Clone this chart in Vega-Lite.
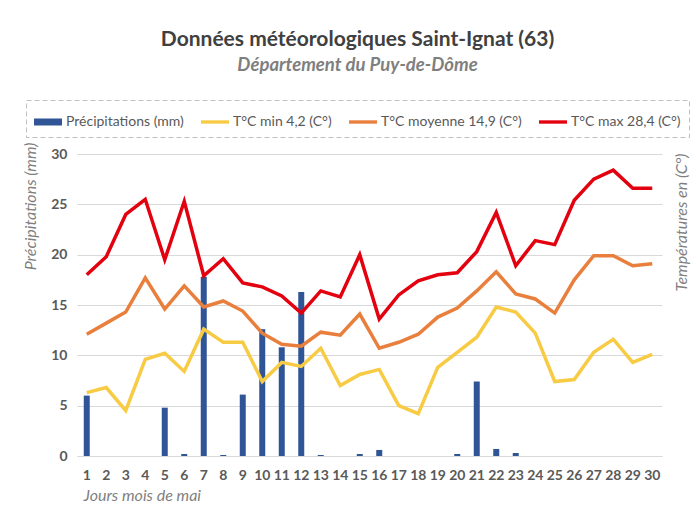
{
  "$schema": "https://vega.github.io/schema/vega-lite/v6.json",
  "width": 585,
  "height": 302,
  "autosize": "none",
  "padding": {"left": 77, "top": 154, "right": 36, "bottom": 58},
  "background": "white",
  "title": {
    "text": "Données météorologiques Saint-Ignat (63)",
    "subtitle": "Département du Puy-de-Dôme",
    "anchor": "middle",
    "offset": 25,
    "dx": -12,
    "font": "Lato",
    "fontSize": 21,
    "fontWeight": "bold",
    "color": "#404040",
    "subtitleFont": "Lato",
    "subtitleFontSize": 18.5,
    "subtitleFontStyle": "italic",
    "subtitleFontWeight": "bold",
    "subtitleColor": "#7F7F7F",
    "subtitlePadding": 6
  },
  "config": {
    "font": "Lato",
    "view": {"stroke": null},
    "axis": {
      "labelFont": "Lato",
      "labelFontSize": 14,
      "labelFontWeight": "bold",
      "labelColor": "#595959",
      "titleFont": "Lato",
      "titleFontSize": 16,
      "titleFontWeight": "normal",
      "titleFontStyle": "italic",
      "titleColor": "#7F7F7F",
      "gridColor": "#D9D9D9",
      "domainColor": "#D9D9D9",
      "ticks": false
    }
  },
  "data": {
    "values": [
      {"day": 1, "precip": 6.0, "tmin": 6.3, "tmean": 12.1, "tmax": 18.0},
      {"day": 2, "precip": 0, "tmin": 6.8, "tmean": 13.2, "tmax": 19.8},
      {"day": 3, "precip": 0, "tmin": 4.5, "tmean": 14.3, "tmax": 24.0},
      {"day": 4, "precip": 0, "tmin": 9.6, "tmean": 17.7, "tmax": 25.5},
      {"day": 5, "precip": 4.8, "tmin": 10.2, "tmean": 14.6, "tmax": 19.5},
      {"day": 6, "precip": 0.2, "tmin": 8.4, "tmean": 16.9, "tmax": 25.3},
      {"day": 7, "precip": 17.8, "tmin": 12.6, "tmean": 14.8, "tmax": 17.9},
      {"day": 8, "precip": 0.1, "tmin": 11.3, "tmean": 15.4, "tmax": 19.6},
      {"day": 9, "precip": 6.1, "tmin": 11.3, "tmean": 14.4, "tmax": 17.2},
      {"day": 10, "precip": 12.6, "tmin": 7.4, "tmean": 12.2, "tmax": 16.8},
      {"day": 11, "precip": 10.8, "tmin": 9.3, "tmean": 11.1, "tmax": 15.9},
      {"day": 12, "precip": 16.3, "tmin": 8.9, "tmean": 10.9, "tmax": 14.2},
      {"day": 13, "precip": 0.1, "tmin": 10.7, "tmean": 12.3, "tmax": 16.4},
      {"day": 14, "precip": 0, "tmin": 7.0, "tmean": 12.0, "tmax": 15.8},
      {"day": 15, "precip": 0.2, "tmin": 8.1, "tmean": 14.1, "tmax": 20.0},
      {"day": 16, "precip": 0.6, "tmin": 8.6, "tmean": 10.7, "tmax": 13.6},
      {"day": 17, "precip": 0, "tmin": 5.0, "tmean": 11.3, "tmax": 16.0},
      {"day": 18, "precip": 0, "tmin": 4.2, "tmean": 12.1, "tmax": 17.4},
      {"day": 19, "precip": 0, "tmin": 8.8, "tmean": 13.8, "tmax": 18.0},
      {"day": 20, "precip": 0.2, "tmin": 10.3, "tmean": 14.7, "tmax": 18.2},
      {"day": 21, "precip": 7.4, "tmin": 11.8, "tmean": 16.4, "tmax": 20.3},
      {"day": 22, "precip": 0.7, "tmin": 14.8, "tmean": 18.3, "tmax": 24.2},
      {"day": 23, "precip": 0.3, "tmin": 14.3, "tmean": 16.1, "tmax": 18.9},
      {"day": 24, "precip": 0, "tmin": 12.2, "tmean": 15.6, "tmax": 21.4},
      {"day": 25, "precip": 0, "tmin": 7.4, "tmean": 14.2, "tmax": 21.0},
      {"day": 26, "precip": 0, "tmin": 7.6, "tmean": 17.5, "tmax": 25.4},
      {"day": 27, "precip": 0, "tmin": 10.3, "tmean": 19.9, "tmax": 27.5},
      {"day": 28, "precip": 0, "tmin": 11.6, "tmean": 19.9, "tmax": 28.4},
      {"day": 29, "precip": 0, "tmin": 9.3, "tmean": 18.9, "tmax": 26.6},
      {"day": 30, "precip": 0, "tmin": 10.1, "tmean": 19.1, "tmax": 26.6}
    ]
  },
  "encoding": {
    "x": {
      "field": "day",
      "type": "ordinal",
      "scale": {"paddingInner": 0, "paddingOuter": 0},
      "axis": {
        "labelAngle": 0,
        "labelPadding": 12,
        "grid": false,
        "title": "Jours mois de mai",
        "titleAnchor": "start",
        "titleAlign": "left",
        "titleX": 6,
        "titlePadding": 5
      }
    }
  },
  "layer": [
    {
      "mark": {"type": "bar", "size": 6},
      "encoding": {
        "y": {
          "field": "precip",
          "type": "quantitative",
          "scale": {"domain": [0, 30], "nice": false},
          "axis": {
            "values": [0, 5, 10, 15, 20, 25, 30],
            "title": "Précipitations (mm)",
            "titleAnchor": "end",
            "titleAlign": "right",
            "titleY": -12,
            "titlePadding": 12,
            "labelPadding": 10,
            "domain": false
          }
        },
        "color": {
          "datum": "precip",
          "type": "nominal",
          "title": null,
          "scale": {
            "domain": ["precip", "tmin", "tmean", "tmax"],
            "range": ["#2F5597", "#F8CB45", "#E97F3C", "#E3000F"]
          },
          "legend": {
            "orient": "none",
            "legendX": -51,
            "legendY": -54,
            "direction": "horizontal",
            "columns": 4,
            "columnPadding": 17,
            "title": null,
            "padding": 8,
            "strokeColor": "#BFBFBF",
            "labelFont": "Lato",
            "labelFontSize": 14,
            "labelColor": "#595959",
            "labelOffset": 4,
            "symbolSize": 784,
            "symbolType": "M-1,-0.12H1V0.12H-1Z",
            "symbolStrokeWidth": 0,
            "labelExpr": "{'precip': 'Précipitations (mm)', 'tmin': 'T°C min 4,2 (C°)', 'tmean': 'T°C moyenne 14,9 (C°)', 'tmax': 'T°C max 28,4 (C°)'}[datum.value]",
            "encoding": {
              "legend": {"strokeDash": {"value": [5, 3]}},
              "symbols": {
                "shape": {
                  "condition": {"test": "datum.value === 'precip'", "value": "M-1,-0.25H1V0.25H-1Z"},
                  "value": "M-1,-0.12H1V0.12H-1Z"
                }
              }
            }
          }
        }
      }
    },
    {
      "transform": [{"fold": ["tmin", "tmean", "tmax"], "as": ["serie", "temp"]}],
      "mark": {"type": "line", "strokeWidth": 3.5, "strokeJoin": "miter"},
      "encoding": {
        "y": {
          "field": "temp",
          "type": "quantitative",
          "scale": {"domain": [0, 30], "nice": false},
          "axis": {
            "orient": "right",
            "labels": false,
            "grid": false,
            "domain": false,
            "title": "Températures en  (C°)",
            "titleAngle": 270,
            "titleAnchor": "end",
            "titleAlign": "right",
            "titleBaseline": "bottom",
            "titleY": -1,
            "titlePadding": 27
          }
        },
        "color": {"field": "serie", "type": "nominal", "title": null}
      }
    }
  ],
  "resolve": {"axis": {"y": "independent"}}
}
